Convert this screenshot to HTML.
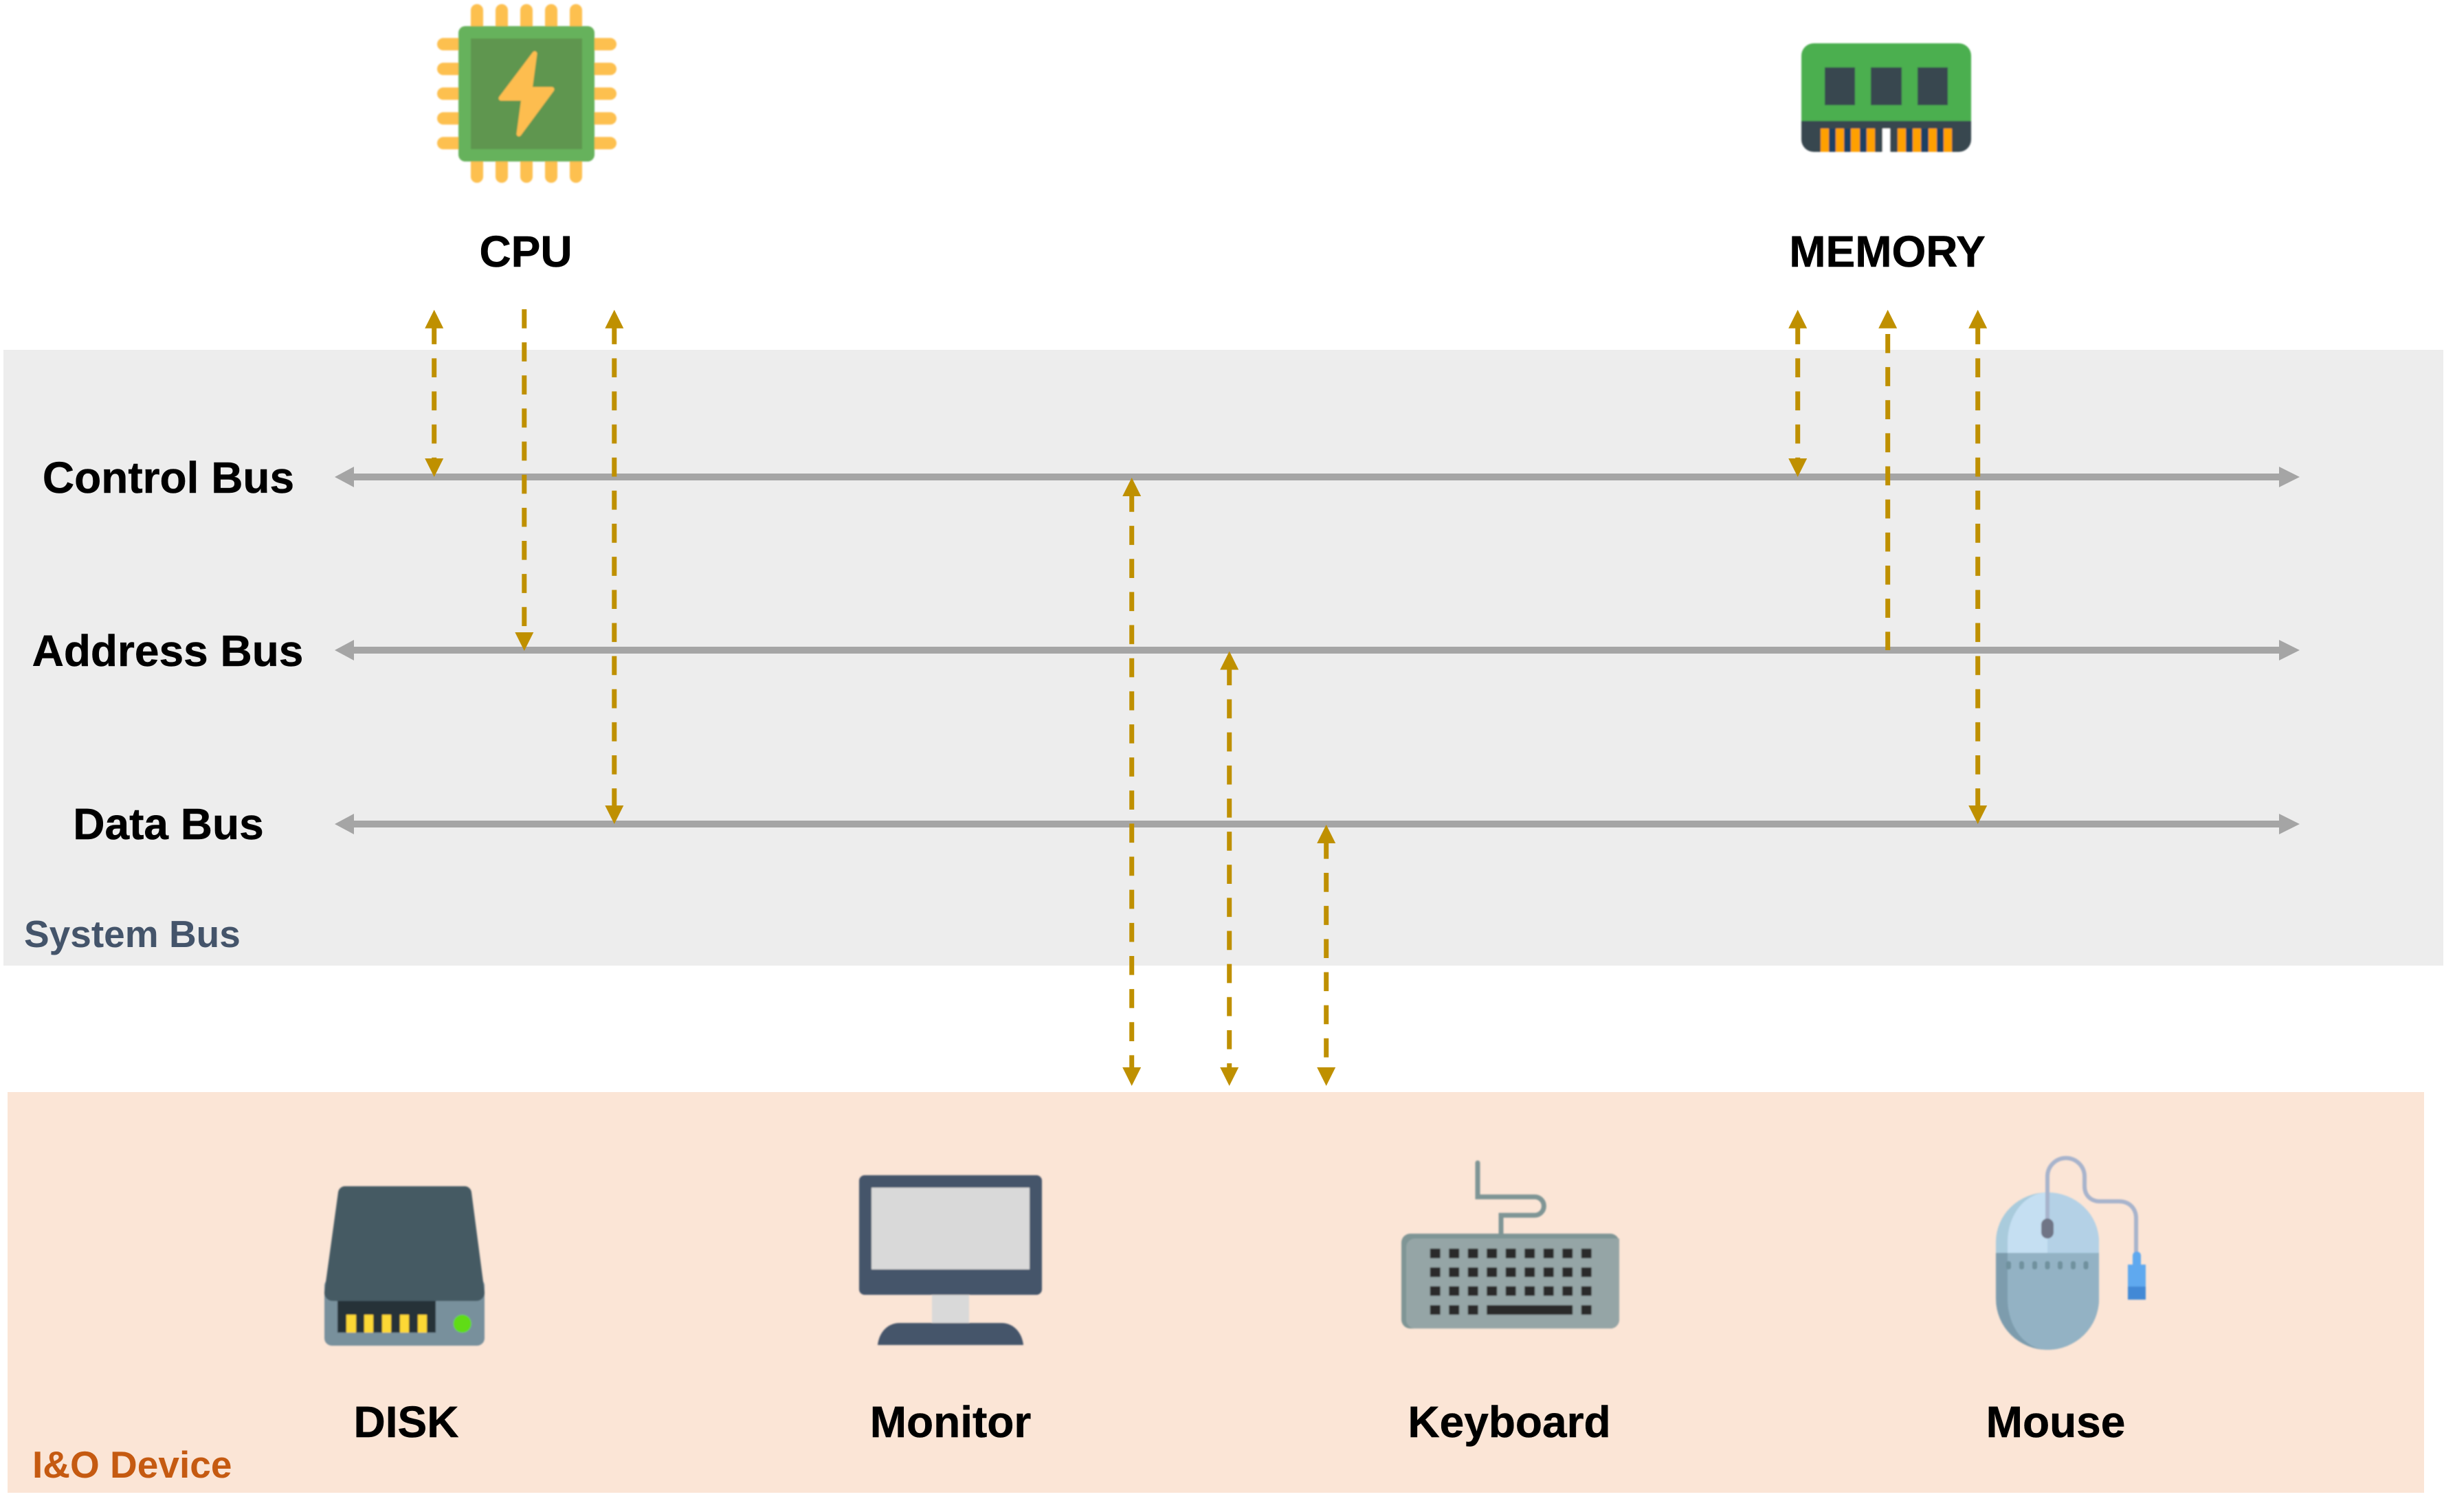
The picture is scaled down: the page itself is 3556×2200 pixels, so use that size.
<!DOCTYPE html>
<html lang="en">
<head>
<meta charset="utf-8">
<title>System Bus Diagram</title>
<style>
html,body{margin:0;padding:0;background:#fff;}
svg{display:block;}
text{font-family:"Liberation Sans",Arial,sans-serif;font-weight:700;}
.t{font-size:64px;fill:#000;text-anchor:middle;stroke:#000;stroke-width:0.5;}
.d{stroke:#bf9000;stroke-width:7;stroke-dasharray:27.7 20.44;fill:none;}
.h{fill:#bf9000;}
.b{stroke:#a5a5a5;stroke-width:10;}
.p{fill:#a5a5a5;}
</style>
</head>
<body>
<svg xmlns="http://www.w3.org/2000/svg" width="3556" height="2200" viewBox="0 0 3556 2200">
<defs>
<filter id="s" x="-5%" y="-5%" width="110%" height="110%"><feGaussianBlur stdDeviation="1"/></filter>
</defs>
<rect width="3556" height="2200" fill="#fff"/>
<rect x="5" y="509" width="3550" height="896" fill="#ededed"/>
<rect x="11" y="1589" width="3516" height="583" fill="#fbe5d6"/>

<!-- buses -->
<g>
<line class="b" x1="510" y1="694" x2="3320" y2="694"/>
<polygon class="p" points="487,694 515,679 515,709"/>
<polygon class="p" points="3346,694 3316,679 3316,709"/>
<line class="b" x1="510" y1="946" x2="3320" y2="946"/>
<polygon class="p" points="487,946 515,931 515,961"/>
<polygon class="p" points="3346,946 3316,931 3316,961"/>
<line class="b" x1="510" y1="1199" x2="3320" y2="1199"/>
<polygon class="p" points="487,1199 515,1184 515,1214"/>
<polygon class="p" points="3346,1199 3316,1184 3316,1214"/>
</g>

<!-- dashed connectors -->
<g>
<line class="d" x1="631.7" y1="473.2" x2="631.7" y2="680"/>
<polygon class="h" points="631.7,450.7 618.2,477.7 645.2,477.7"/>
<polygon class="h" points="631.7,694 618.2,667 645.2,667"/>

<line class="d" x1="762.8" y1="450" x2="762.8" y2="933"/>
<polygon class="h" points="762.8,947 749.3,920 776.3,920"/>

<line class="d" x1="893.8" y1="473.2" x2="893.8" y2="1185"/>
<polygon class="h" points="893.8,450.7 880.3,477.7 907.3,477.7"/>
<polygon class="h" points="893.8,1199 880.3,1172 907.3,1172"/>

<line class="d" x1="2615.7" y1="473.2" x2="2615.7" y2="680"/>
<polygon class="h" points="2615.7,450.7 2602.2,477.7 2629.2,477.7"/>
<polygon class="h" points="2615.7,694 2602.2,667 2629.2,667"/>

<line class="d" x1="2746.7" y1="486" x2="2746.7" y2="946"/>
<polygon class="h" points="2746.7,450.7 2733.2,477.7 2760.2,477.7"/>

<line class="d" x1="2877.7" y1="473.2" x2="2877.7" y2="1185"/>
<polygon class="h" points="2877.7,450.7 2864.2,477.7 2891.2,477.7"/>
<polygon class="h" points="2877.7,1199 2864.2,1172 2891.2,1172"/>

<line class="d" x1="1646.7" y1="717" x2="1646.7" y2="1563"/>
<polygon class="h" points="1646.7,695 1633.2,722 1660.2,722"/>
<polygon class="h" points="1646.7,1580 1633.2,1553 1660.2,1553"/>

<line class="d" x1="1788.7" y1="969.4" x2="1788.7" y2="1563"/>
<polygon class="h" points="1788.7,947.5 1775.2,974.5 1802.2,974.5"/>
<polygon class="h" points="1788.7,1580 1775.2,1553 1802.2,1553"/>

<line class="d" x1="1929.7" y1="1221.9" x2="1929.7" y2="1539"/>
<polygon class="h" points="1929.7,1200 1916.2,1227 1943.2,1227"/>
<polygon class="h" points="1929.7,1580 1916.2,1553 1943.2,1553"/>
</g>

<!-- CPU icon -->
<g filter="url(#s)">
<g stroke="#fdc04f" stroke-width="18" stroke-linecap="round">
<line x1="694" y1="15" x2="694" y2="257"/>
<line x1="730" y1="15" x2="730" y2="257"/>
<line x1="766" y1="15" x2="766" y2="257"/>
<line x1="802" y1="15" x2="802" y2="257"/>
<line x1="838" y1="15" x2="838" y2="257"/>
<line x1="645" y1="64.3" x2="888" y2="64.3"/>
<line x1="645" y1="100.3" x2="888" y2="100.3"/>
<line x1="645" y1="136.3" x2="888" y2="136.3"/>
<line x1="645" y1="172.3" x2="888" y2="172.3"/>
<line x1="645" y1="208.3" x2="888" y2="208.3"/>
</g>
<rect x="667" y="38" width="198" height="197" rx="10" fill="#66b25c"/>
<rect x="685" y="56" width="162" height="161" fill="#5f964f"/>
<polygon points="778,78 771,130 803,130 755,195 762,143 729,143" fill="#fdbd4f" stroke="#fdbd4f" stroke-width="7" stroke-linejoin="round"/>
</g>

<!-- Memory icon -->
<g filter="url(#s)">
<path d="M2621 176V81a18 18 0 0 1 18-18H2850a18 18 0 0 1 18 18V176Z" fill="#4caf50"/>
<path d="M2621 176H2868V203a18 18 0 0 1-18 18H2639a18 18 0 0 1-18-18Z" fill="#37474f"/>
<rect x="2655" y="98" width="44" height="55" fill="#37474f"/>
<rect x="2722" y="98" width="45" height="55" fill="#37474f"/>
<rect x="2790" y="98" width="44" height="55" fill="#37474f"/>
<rect x="2649" y="187" width="110" height="34" fill="#1f4063"/>
<rect x="2760" y="187" width="70" height="34" fill="#1f4063"/>
<g fill="#ffa000">
<rect x="2649" y="187" width="12" height="34"/>
<rect x="2671" y="187" width="12" height="34"/>
<rect x="2693" y="187" width="13" height="34"/>
<rect x="2716" y="187" width="12" height="34"/>
<rect x="2761" y="187" width="12" height="34"/>
<rect x="2783" y="187" width="12" height="34"/>
<rect x="2806" y="187" width="12" height="34"/>
<rect x="2828" y="187" width="12" height="34"/>
</g>
<rect x="2728" y="187" width="11" height="34" fill="#37474f"/>
<rect x="2750" y="187" width="11" height="34" fill="#37474f"/>
<rect x="2739" y="187" width="11" height="36" fill="#fff"/>
</g>

<!-- Disk icon -->
<g filter="url(#s)">
<rect x="472" y="1860" width="233" height="98" rx="11" fill="#78909c"/>
<path d="M502 1726H676a10 10 0 0 1 10 9L705 1880a12 12 0 0 1-12 13H484a12 12 0 0 1-12-13L492 1735a10 10 0 0 1 10-9Z" fill="#455a64"/>
<rect x="491" y="1893" width="143" height="46" fill="#263238"/>
<g fill="#fdd835">
<rect x="504" y="1913" width="14" height="26"/>
<rect x="530" y="1913" width="13" height="26"/>
<rect x="556" y="1913" width="13" height="26"/>
<rect x="582" y="1913" width="13" height="26"/>
<rect x="608" y="1913" width="13" height="26"/>
</g>
<circle cx="672.7" cy="1926" r="13" fill="#60dc14"/>
</g>

<!-- Monitor icon -->
<g filter="url(#s)">
<rect x="1250" y="1710" width="266" height="174" rx="8" fill="#44546a"/>
<rect x="1268" y="1728" width="230" height="119" fill="#d9d9d9"/>
<rect x="1356" y="1884" width="54" height="41" fill="#d9d9d9"/>
<path d="M1277 1957C1279 1939 1291 1925 1309 1925H1457C1475 1925 1487 1939 1489 1957Z" fill="#44546a"/>
</g>

<!-- Keyboard icon -->
<g filter="url(#s)">
<path d="M2150 1692V1741.5H2233a13.3 13.3 0 0 1 0 26.7H2184V1797" fill="none" stroke="#7f9595" stroke-width="7" stroke-linecap="round"/>
<rect x="2039" y="1795" width="317" height="138" rx="13" fill="#7f9595"/>
<path d="M2046 1815a13 13 0 0 1 13-13H2356V1920a13 13 0 0 1-13 13H2059a13 13 0 0 1-13-13Z" fill="#95a5a6"/>
<g fill="#2b2b2b">
<rect x="2080.7" y="1816.7" width="15" height="14" rx="1"/><rect x="2108.2" y="1816.7" width="15" height="14" rx="1"/><rect x="2135.7" y="1816.7" width="15" height="14" rx="1"/><rect x="2163.2" y="1816.7" width="15" height="14" rx="1"/><rect x="2190.7" y="1816.7" width="15" height="14" rx="1"/><rect x="2218.2" y="1816.7" width="15" height="14" rx="1"/><rect x="2245.7" y="1816.7" width="15" height="14" rx="1"/><rect x="2273.2" y="1816.7" width="15" height="14" rx="1"/><rect x="2300.7" y="1816.7" width="15" height="14" rx="1"/>
<rect x="2080.7" y="1844.1" width="15" height="14" rx="1"/><rect x="2108.2" y="1844.1" width="15" height="14" rx="1"/><rect x="2135.7" y="1844.1" width="15" height="14" rx="1"/><rect x="2163.2" y="1844.1" width="15" height="14" rx="1"/><rect x="2190.7" y="1844.1" width="15" height="14" rx="1"/><rect x="2218.2" y="1844.1" width="15" height="14" rx="1"/><rect x="2245.7" y="1844.1" width="15" height="14" rx="1"/><rect x="2273.2" y="1844.1" width="15" height="14" rx="1"/><rect x="2300.7" y="1844.1" width="15" height="14" rx="1"/>
<rect x="2080.7" y="1871.5" width="15" height="14" rx="1"/><rect x="2108.2" y="1871.5" width="15" height="14" rx="1"/><rect x="2135.7" y="1871.5" width="15" height="14" rx="1"/><rect x="2163.2" y="1871.5" width="15" height="14" rx="1"/><rect x="2190.7" y="1871.5" width="15" height="14" rx="1"/><rect x="2218.2" y="1871.5" width="15" height="14" rx="1"/><rect x="2245.7" y="1871.5" width="15" height="14" rx="1"/><rect x="2273.2" y="1871.5" width="15" height="14" rx="1"/><rect x="2300.7" y="1871.5" width="15" height="14" rx="1"/>
<rect x="2080.7" y="1899" width="15" height="14" rx="1"/><rect x="2108.2" y="1899" width="15" height="14" rx="1"/><rect x="2135.7" y="1899" width="15" height="14" rx="1"/><rect x="2163.2" y="1899" width="125" height="14" rx="1"/><rect x="2300.7" y="1899" width="15" height="14" rx="1"/>
</g>
</g>

<!-- Mouse icon -->
<g filter="url(#s)">
<path d="M2904 1823V1807A75 72 0 0 1 3054 1807V1823Z" fill="#a9cbdc"/>
<path d="M2921 1823V1807A58 72 0 0 1 2979 1735V1823Z" fill="#c5dff2"/>
<path d="M2979 1823V1735A75 72 0 0 1 3054 1807V1823Z" fill="#b4d1e6"/>
<path d="M2904 1823V1890A75 74 0 0 0 3054 1890V1823Z" fill="#7d9cad"/>
<path d="M2921 1823V1890A58 74 0 0 0 2979 1964A75 74 0 0 0 3054 1890V1823Z" fill="#93b2c4"/>
<g fill="#6f919e">
<rect x="2919" y="1835" width="7" height="12" rx="3"/><rect x="2938" y="1835" width="7" height="12" rx="3"/><rect x="2957" y="1835" width="7" height="12" rx="3"/><rect x="2975.5" y="1835" width="7" height="12" rx="3"/><rect x="2994" y="1835" width="7" height="12" rx="3"/><rect x="3013" y="1835" width="7" height="12" rx="3"/><rect x="3031.5" y="1835" width="7" height="12" rx="3"/>
</g>
<path d="M2979 1775V1712A27 27 0 0 1 3033 1712V1726C3033 1739 3042 1748 3055 1748H3083C3098 1748 3108 1758 3108 1773V1823" fill="none" stroke="#a7b3cc" stroke-width="6"/>
<rect x="2970" y="1773" width="18" height="29" rx="9" fill="#6f7486"/>
<path d="M3103 1840V1827a6 6 0 0 1 12 0V1840Z" fill="#5ea9ef"/>
<rect x="3096" y="1840" width="26" height="32" fill="#5ea9ef"/>
<rect x="3096" y="1872" width="26" height="19" fill="#4389d6"/>
</g>

<!-- Labels -->
<text class="t" x="765" y="388">CPU</text>
<text class="t" x="2746" y="388">MEMORY</text>
<text class="t" x="245" y="717">Control Bus</text>
<text class="t" x="244" y="969">Address Bus</text>
<text class="t" x="245" y="1221">Data Bus</text>
<text class="t" x="591" y="2091">DISK</text>
<text class="t" x="1383" y="2091">Monitor</text>
<text class="t" x="2196" y="2091">Keyboard</text>
<text class="t" x="2991" y="2091">Mouse</text>
<text x="35" y="1378" font-size="55" fill="#44546a">System Bus</text>
<text x="47" y="2150" font-size="55" fill="#c55a11">I&amp;O Device</text>
</svg>
</body>
</html>
